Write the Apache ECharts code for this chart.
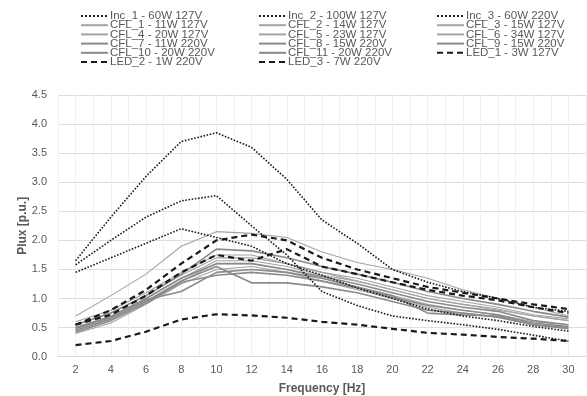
<!DOCTYPE html>
<html>
<head>
<meta charset="utf-8">
<script src="https://cdn.jsdelivr.net/npm/echarts@6/dist/echarts.min.js"></script>
<style>
  html, body { margin: 0; padding: 0; background: #fff; }
  #chart { width: 587px; height: 396px; }
</style>
</head>
<body>
<div id="chart"></div>
<script>
// Frequencies of the flicker test points (Hz)
const frequencies = [2, 4, 6, 8, 10, 12, 14, 16, 18, 20, 22, 24, 26, 28, 30];

// Plux [p.u.] per lamp, one value per frequency
const inc1  = [1.65, 2.40, 3.10, 3.70, 3.85, 3.60, 3.05, 2.35, 1.95, 1.50, 1.28, 1.12, 1.00, 0.85, 0.78];
const inc2  = [1.58, 2.00, 2.40, 2.68, 2.77, 2.25, 1.75, 1.12, 0.88, 0.70, 0.62, 0.55, 0.47, 0.37, 0.27];
const inc3  = [1.45, 1.70, 1.95, 2.20, 2.05, 1.90, 1.60, 1.40, 1.18, 1.00, 0.82, 0.70, 0.62, 0.52, 0.44];
const cfl1  = [0.45, 0.65, 0.95, 1.30, 1.60, 1.60, 1.50, 1.35, 1.20, 1.05, 0.90, 0.80, 0.72, 0.60, 0.55];
const cfl2  = [0.50, 0.70, 1.00, 1.35, 1.65, 1.65, 1.55, 1.40, 1.30, 1.15, 1.00, 0.90, 0.80, 0.70, 0.62];
const cfl3  = [0.60, 0.80, 1.10, 1.45, 1.75, 1.75, 1.60, 1.45, 1.35, 1.20, 1.05, 0.95, 0.85, 0.72, 0.65];
const cfl4  = [0.40, 0.58, 0.90, 1.25, 1.50, 1.55, 1.45, 1.30, 1.15, 1.00, 0.85, 0.75, 0.68, 0.55, 0.50];
const cfl5  = [0.55, 0.75, 1.05, 1.40, 1.70, 1.70, 1.60, 1.45, 1.30, 1.15, 1.00, 0.90, 0.82, 0.70, 0.62];
const cfl6  = [0.70, 1.05, 1.42, 1.90, 2.15, 2.12, 2.05, 1.80, 1.62, 1.50, 1.35, 1.15, 1.00, 0.85, 0.70];
const cfl7  = [0.50, 0.68, 0.98, 1.12, 1.45, 1.50, 1.45, 1.35, 1.20, 1.05, 0.75, 0.72, 0.70, 0.55, 0.48];
const cfl8  = [0.45, 0.65, 0.95, 1.30, 1.55, 1.27, 1.27, 1.20, 1.10, 0.95, 0.80, 0.75, 0.68, 0.55, 0.50];
const cfl9  = [0.48, 0.68, 1.00, 1.35, 1.60, 1.60, 1.50, 1.38, 1.25, 1.10, 0.95, 0.85, 0.78, 0.62, 0.55];
const cfl10 = [0.55, 0.75, 1.05, 1.42, 1.85, 1.82, 1.70, 1.55, 1.42, 1.28, 1.12, 1.00, 0.90, 0.78, 0.68];
const cfl11 = [0.42, 0.62, 0.92, 1.28, 1.40, 1.45, 1.40, 1.30, 1.18, 1.02, 0.88, 0.80, 0.72, 0.58, 0.52];
const led1  = [0.55, 0.80, 1.15, 1.60, 2.00, 2.10, 2.00, 1.70, 1.50, 1.35, 1.20, 1.10, 1.00, 0.90, 0.82];
const led2  = [0.20, 0.27, 0.43, 0.64, 0.73, 0.71, 0.67, 0.60, 0.55, 0.48, 0.41, 0.38, 0.34, 0.31, 0.27];
const led3  = [0.55, 0.72, 1.05, 1.45, 1.75, 1.65, 1.85, 1.55, 1.42, 1.28, 1.15, 1.05, 0.97, 0.85, 0.75];

// Y axis tick labels
const yTicks = ['0.0', '0.5', '1.0', '1.5', '2.0', '2.5', '3.0', '3.5', '4.0', '4.5'];

const lamps = [
  { name: 'Inc_1 - 60W 127V',   values: inc1,  kind: 'inc' },
  { name: 'Inc_2 - 100W 127V',  values: inc2,  kind: 'inc' },
  { name: 'Inc_3 - 60W 220V',   values: inc3,  kind: 'inc' },
  { name: 'CFL_1 - 11W 127V',   values: cfl1,  kind: 'cflA' },
  { name: 'CFL_2 - 14W 127V',   values: cfl2,  kind: 'cflA' },
  { name: 'CFL_3 - 15W 127V',   values: cfl3,  kind: 'cflA' },
  { name: 'CFL_4 - 20W 127V',   values: cfl4,  kind: 'cflA' },
  { name: 'CFL_5 - 23W 127V',   values: cfl5,  kind: 'cflA' },
  { name: 'CFL_6 - 34W 127V',   values: cfl6,  kind: 'cflA' },
  { name: 'CFL_7 - 11W 220V',   values: cfl7,  kind: 'cflB' },
  { name: 'CFL_8 - 15W 220V',   values: cfl8,  kind: 'cflB' },
  { name: 'CFL_9 - 15W 220V',   values: cfl9,  kind: 'cflB' },
  { name: 'CFL_10 - 20W 220V',  values: cfl10, kind: 'cflB' },
  { name: 'CFL_11 - 20W 220V',  values: cfl11, kind: 'cflB' },
  { name: 'LED_1 - 3W 127V',    values: led1,  kind: 'led' },
  { name: 'LED_2 - 1W 220V',    values: led2,  kind: 'led' },
  { name: 'LED_3 - 7W 220V',    values: led3,  kind: 'led' }
];

const styles = {
  inc:  { color: '#1a1a1a', width: 1.6, type: 'dotted' },
  cflA: { color: '#a3a3a3', width: 1.1, type: 'solid' },
  cflB: { color: '#8a8a8a', width: 1.6, type: 'solid' },
  led:  { color: '#1a1a1a', width: 2.2, type: [6, 4] }
};

const series = lamps.map(l => {
  const s = styles[l.kind];
  return {
    name: l.name,
    type: 'line',
    symbol: 'none',
    silent: true,
    z: l.kind === 'led' ? 4 : (l.kind === 'inc' ? 3 : 2),
    color: s.color,
    lineStyle: { color: s.color, width: s.width, type: s.type },
    data: frequencies.map((f, i) => [f, l.values[i]])
  };
});

const n = i => lamps[i].name;
const legendCols = [
  [n(0), n(3), n(6), n(9), n(12), n(15)],
  [n(1), n(4), n(7), n(10), n(13), n(16)],
  [n(2), n(5), n(8), n(11), n(14)]
];
const legendLefts = [80, 258, 436];

const legendBase = {
  orient: 'vertical',
  top: 10,
  itemWidth: 27,
  itemHeight: 9,
  itemGap: -2.8,
  selectedMode: false,
  itemStyle: { opacity: 0 },
  textStyle: {
    fontFamily: 'Liberation Sans, Arial, sans-serif',
    fontSize: 11.5,
    lineHeight: 9,
    height: 9,
    color: '#595959',
    padding: [0, 0, 0, -3]
  },
  padding: 0
};

const chart = echarts.init(document.getElementById('chart'), null, { renderer: 'canvas' });
chart.setOption({
  animation: false,
  backgroundColor: '#ffffff',
  textStyle: { fontFamily: 'Liberation Sans, Arial, sans-serif' },
  legend: legendCols.map((col, i) => Object.assign({}, legendBase, { left: legendLefts[i], data: col })),
  grid: { left: 58, right: 1, top: 95, bottom: 39.3, containLabel: false, outerBoundsMode: 'none' },
  xAxis: {
    type: 'value',
    min: 1,
    max: 31,
    interval: 1,
    name: 'Frequency [Hz]',
    nameLocation: 'middle',
    nameGap: 26,
    nameTextStyle: { fontSize: 12, fontWeight: 'bold', color: '#595959' },
    axisLine: { show: true, lineStyle: { color: '#d9d9d9', width: 1 } },
    axisTick: { show: false },
    axisLabel: {
      fontSize: 11,
      color: '#595959',
      margin: 8,
      formatter: v => (frequencies.indexOf(v) >= 0 ? String(v) : '')
    },
    splitLine: { show: true, lineStyle: { color: '#efefef', width: 1 } }
  },
  yAxis: {
    type: 'value',
    min: 0,
    max: 4.5,
    interval: 0.5,
    name: 'Plux [p.u.]',
    nameLocation: 'middle',
    nameGap: 29,
    nameMoveOverlap: false,
    nameTextStyle: { fontSize: 12, fontWeight: 'bold', color: '#595959' },
    axisLine: { show: false },
    axisTick: { show: false },
    axisLabel: {
      fontSize: 11,
      color: '#595959',
      margin: 11,
      formatter: v => yTicks[Math.round(v / 0.5)]
    },
    splitLine: { show: true, lineStyle: { color: '#dedede', width: 1.2 } }
  },
  series: series
});
</script>
</body>
</html>
